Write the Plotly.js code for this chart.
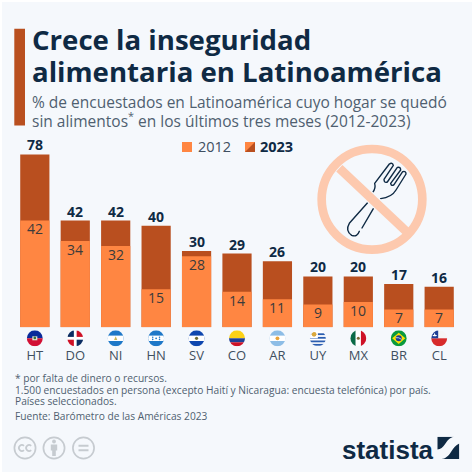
<!DOCTYPE html>
<html><head><meta charset="utf-8">
<script src="https://cdn.plot.ly/plotly-3.0.1.min.js"></script>
<style>html,body{margin:0;padding:0;background:#fff}#c{width:474px;height:474px}</style>
</head><body><div id="c"></div>
<script>
const countries = ["HT","DO","NI","HN","SV","CO","AR","UY","MX","BR","CL"];
const values2012 = [42,34,32,15,28,14,11,9,10,7,7];
const values2023 = [78,42,42,40,30,29,26,20,20,17,16];
const titleLines = ["Crece la inseguridad","alimentaria en Latinoamérica"];
const subtitleLines = ["% de encuestados en Latinoamérica cuyo hogar se quedó","sin alimentos<sup>*</sup> en los últimos tres meses (2012-2023)"];
const noteLines = ["* por falta de dinero o recursos.","1.500 encuestados en persona (excepto Haití y Nicaragua: encuesta telefónica) por país.","Países seleccionados.","Fuente: Barómetro de las Américas 2023"];
const yMax = 68; // the reference cuts the tallest bar off at this height

const W=474,H=474, FONT='"Open Sans", sans-serif';
const NAVY='#0f2a44', C12='#ff8642', C23='#b94f1f';
const px=x=>x/W, py=y=>1-y/H;
const plotL=14.6, plotR=459.4, plotT=154.5, plotB=327.3;

function txt(x,y,text,size,color,opts){return Object.assign({xref:'paper',yref:'paper',x:px(x),y:py(y),text,showarrow:false,xanchor:'left',yanchor:'middle',align:'left',font:{family:FONT,size,color}},opts||{});}
function box(x0,y0,x1,y1,fill,layer){return {type:'rect',xref:'paper',yref:'paper',x0:px(x0),x1:px(x1),y0:py(y0),y1:py(y1),fillcolor:fill,line:{width:0},layer:layer||'above'};}
function svgURI(vb,body){return 'data:image/svg+xml;utf8,'+encodeURIComponent(`<svg xmlns="http://www.w3.org/2000/svg" viewBox="${vb}">${body}</svg>`);}
function img(x,y,w,h,src,layer){return {source:src,xref:'paper',yref:'paper',x:px(x),y:py(y),sizex:w/W,sizey:h/H,xanchor:'left',yanchor:'top',sizing:'stretch',layer:layer||'above'};}

// flags, keyed by country
const sun=(x,y,r,c)=>`<circle cx="${x}" cy="${y}" r="${r}" fill="${c}"/>`;
const flagBodies={
 HT:`<rect width="16" height="8" fill="#0a2a9a"/><rect y="8" width="16" height="8" fill="#d21034"/><rect x="5.5" y="6" width="5" height="4" fill="#dfe6d8"/><circle cx="8" cy="7.6" r="1.3" fill="#3a6b3a"/>`,
 DO:`<rect width="16" height="16" fill="#fff"/><rect width="6.6" height="6.6" fill="#0b2d62"/><rect x="9.4" width="6.6" height="6.6" fill="#ce1126"/><rect y="9.4" width="6.6" height="6.6" fill="#ce1126"/><rect x="9.4" y="9.4" width="6.6" height="6.6" fill="#0b2d62"/>`,
 NI:`<rect width="16" height="16" fill="#1e78c8"/><rect y="5.3" width="16" height="5.4" fill="#fff"/><path d="M8 6 L9.6 9.6 H6.4Z" fill="#c9b75a"/>`,
 HN:`<rect width="16" height="16" fill="#1e78c8"/><rect y="5.3" width="16" height="5.4" fill="#fff"/>${sun(8,8,.9,'#1e78c8')}${sun(4.6,6.9,.8,'#1e78c8')}${sun(11.4,6.9,.8,'#1e78c8')}${sun(4.6,9.1,.8,'#1e78c8')}${sun(11.4,9.1,.8,'#1e78c8')}`,
 SV:`<rect width="16" height="16" fill="#0f47af"/><rect y="5.3" width="16" height="5.4" fill="#fff"/>${sun(8,8,1.6,'#6d6a35')}`,
 CO:`<rect width="16" height="8" fill="#fcd116"/><rect y="8" width="16" height="4" fill="#1f3f95"/><rect y="12" width="16" height="4" fill="#ce1126"/>`,
 AR:`<rect width="16" height="16" fill="#8dbde6"/><rect y="5.3" width="16" height="5.4" fill="#fff"/>${sun(8,8,1.9,'#e8a33a')}`,
 UY:`<rect width="16" height="16" fill="#fff"/><rect y="3" width="16" height="1.8" fill="#2a5db0"/><rect y="6.6" width="16" height="1.8" fill="#2a5db0"/><rect y="10.2" width="16" height="1.8" fill="#2a5db0"/><rect y="13.6" width="16" height="1.8" fill="#2a5db0"/><rect width="8" height="8" fill="#fff"/>${sun(4.2,4,2.4,'#d9a83c')}`,
 MX:`<rect width="5.4" height="16" fill="#0a6a47"/><rect x="5.4" width="5.2" height="16" fill="#fff"/><rect x="10.6" width="5.4" height="16" fill="#ce1126"/>${sun(8,8,1.5,'#7a6a35')}`,
 BR:`<rect width="16" height="16" fill="#0a9a3e"/><path d="M8 2.4 L14.6 8 L8 13.6 L1.4 8Z" fill="#fedf00"/><circle cx="8" cy="8" r="3" fill="#1c3f8f"/><path d="M5.2 7.4 Q8 6.8 10.8 9" stroke="#fff" stroke-width=".7" fill="none"/>`,
 CL:`<rect width="16" height="8" fill="#f5f5f5"/><rect y="8" width="16" height="8" fill="#d72b2b"/><rect width="7" height="8" fill="#1f3f95"/><path d="M3.5 2.4 L4.3 4.7 L6 4.7 L4.7 5.9 L2.3 5.9 L1 4.7 L2.7 4.7Z" fill="#fff"/>`
};
const flagImages=countries.map((c,i)=>{
  const cx=plotL+(plotR-plotL)*(i+.5)/countries.length;
  return img(cx-8,330.3,16,16,svgURI('0 0 16 16',`<defs><clipPath id="k"><circle cx="8" cy="8" r="8"/></clipPath></defs><g clip-path="url(#k)">${flagBodies[c]}</g>`));
});

const forkIcon=svgURI('0 0 375 360',`
<g fill="none" stroke="${NAVY}" stroke-width="4.2" stroke-linecap="round" stroke-linejoin="round">
<path d="M188 157 Q198 145 194 130 L238 72 Q247 66 250 76 L222 118 Q222 130 232 126 L262 82 Q272 80 272 90 L242 130 Q244 140 252 134 L278 95 Q288 92 288 102 L258 150 Q245 172 212 176"/>
<path d="M174 187 L118 250 Q105 272 125 286 Q142 292 148 274"/>
<path d="M190 206 L156 264"/></g>
<path d="M88 85 L290 275" stroke="#f5f8fc" stroke-width="34" fill="none"/>
<circle cx="186" cy="178" r="151" fill="none" stroke="#fdc9ae" stroke-width="26"/>
<path d="M88 85 L290 275" stroke="#fdc9ae" stroke-width="27" fill="none"/>`);

const logoMark=svgURI('0 0 66 66',`<path d="M0 0 H52 C36 2 30 12 23 22 C17 31 10 37 0 38Z M66 20 V66 H12 C28 64 35 54 43 42 C49 33 55 25 66 20Z" fill="${NAVY}"/>`);

const ccIcons=svgURI('0 0 84 24',`<g fill="none" stroke="#c6cbd0" stroke-width="1.7">
<circle cx="12" cy="12" r="10.6"/><circle cx="41" cy="12" r="10.6"/><circle cx="70.5" cy="12" r="10.6"/>
<path d="M11 9.8 A3 3 0 1 0 11 14.2 M18.2 9.8 A3 3 0 1 0 18.2 14.2"/>
<path d="M65.5 9.8 H75.5 M65.5 14.2 H75.5" stroke-width="2"/></g>
<g fill="#c6cbd0"><circle cx="41" cy="5.5" r="1.9"/><path d="M37.8 8.4 H44.2 V14.4 H42.8 V20 H39.2 V14.4 H37.8Z"/></g>`);

const data=[
 {type:'bar',name:'2023',x:countries,y:values2023,marker:{color:C23},hoverinfo:'x+y'},
 {type:'bar',name:'2012',x:countries,y:values2012,marker:{color:C12},hoverinfo:'x+y'}
];

const totals=countries.map((c,i)=>({xref:'x',yref:'y',x:c,y:Math.min(values2023[i],yMax),text:'<b>'+values2023[i]+'</b>',showarrow:false,yanchor:'bottom',yshift:-2,font:{family:FONT,size:14,color:NAVY}}));
const insideLabels=countries.map((c,i)=>({xref:'x',yref:'y',x:c,y:values2012[i],text:String(values2012[i]),showarrow:false,yanchor:'middle',yshift:-8.4,font:{family:FONT,size:14,color:'#3b3b3b'}}));

const layout={
 width:W,height:H,margin:{l:0,r:0,t:0,b:0},paper_bgcolor:'#fff',plot_bgcolor:'rgba(0,0,0,0)',showlegend:false,
 barmode:'overlay',bargap:0.278,
 xaxis:{domain:[px(plotL),px(plotR)],type:'category',showgrid:false,zeroline:false,showline:false,ticks:'outside',ticklen:16,tickcolor:'rgba(0,0,0,0)',tickfont:{family:FONT,size:13,color:'#3f4f60'},fixedrange:true},
 yaxis:{domain:[py(plotB),py(plotT)],range:[0,yMax],visible:false,fixedrange:true},
 shapes:[
  box(2,2,472,472,'#f5f8fc','below'),
  box(14.3,28.7,25,125.5,C23),
  box(182,142,192,152,C12),
  box(245,142,255,152,C12),
  {type:'path',xref:'paper',yref:'paper',path:`M ${px(245)} ${py(152)} L ${px(255)} ${py(142)} L ${px(255)} ${py(152)} Z`,fillcolor:C23,line:{width:0}}
 ],
 images:[...flagImages,img(310,140,125,120,forkIcon),img(437.3,436.7,22,22.3,logoMark),img(13,436,84,24,ccIcons)],
 annotations:[
  txt(30,39,'<b>'+titleLines[0]+'</b>',27.6,NAVY),
  txt(30,71,'<b>'+titleLines[1]+'</b>',27.6,NAVY),
  txt(30,101.5,subtitleLines[0],15.5,'#4f5f70'),
  txt(30,120.5,subtitleLines[1],15.5,'#4f5f70'),
  txt(196,146,'2012',14.5,'#3f4f60'),
  txt(258,146,'<b>2023</b>',14.5,NAVY),
  txt(12.5,377.5,noteLines[0],10.2,'#4f5f70'),
  txt(12.5,389.5,noteLines[1],10.2,'#4f5f70'),
  txt(12.5,401,noteLines[2],10.2,'#4f5f70'),
  txt(12.5,416,noteLines[3],10.2,'#4f5f70'),
  txt(340,450,'<b>statista</b>',26,NAVY,{font:{family:'"Liberation Sans",sans-serif',size:26,color:NAVY}}),
  ...totals,
  ...insideLabels
 ]
};
Plotly.newPlot('c',data,layout,{displayModeBar:false,staticPlot:true});
</script></body></html>
